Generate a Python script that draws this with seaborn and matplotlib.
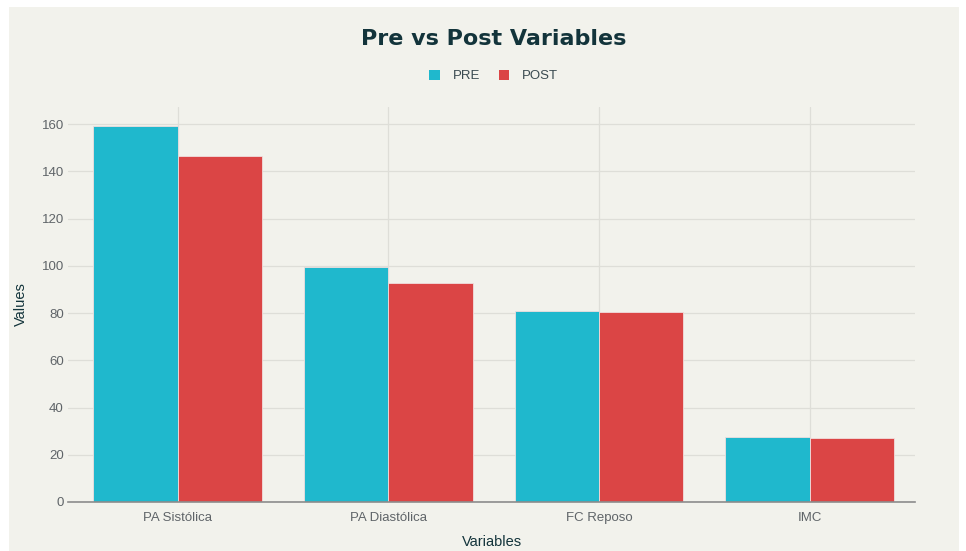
import numpy as np
import pandas as pd

import matplotlib
matplotlib.use("Agg")
import matplotlib.pyplot as plt
from matplotlib.patches import Rectangle
import seaborn as sns


# 데이터
variables = ["PA Sistólica", "PA Diastólica", "FC Reposo", "IMC"]
pre_values = [159.2, 99.6, 80.8, 27.5]
post_values = [146.5, 92.8, 80.5, 27.1]
series_names = ["PRE", "POST"]
y_ticks = [0, 20, 40, 60, 80, 100, 120, 140, 160]

# 색상
colors = ["#1FB8CD", "#DB4545"]
bg = "#F2F2EC"
dark = "#13343B"

df = pd.DataFrame({
    "Variables": variables * 2,
    "Values": pre_values + post_values,
    "Period": [series_names[0]] * len(variables) + [series_names[1]] * len(variables),
})

sns.set_theme(style="white")
plt.rcParams["font.family"] = ["Liberation Sans", "DejaVu Sans"]

fig = plt.figure(figsize=(9.66, 5.51), dpi=100, facecolor="white")
# 배경 영역 (가장자리 흰 테두리)
fig.patches.append(Rectangle((9 / 966, 0), 950 / 966, 1 - 7 / 551,
                             transform=fig.transFigure, facecolor=bg,
                             edgecolor="none", zorder=-10))

ax = fig.add_axes([68 / 966, 49 / 551, 847 / 966, 395 / 551])
ax.set_facecolor(bg)

sns.barplot(data=df, x="Variables", y="Values", hue="Period",
            palette=colors, saturation=1, width=0.8, ax=ax,
            edgecolor="#f0dede", linewidth=0.6, zorder=3, legend=False)

ax.set_xlim(-0.52, 3.5)
ax.set_ylim(0, 167.2)
ax.set_yticks(y_ticks)

# 그리드
ax.grid(True, axis="both", color="#DEDED8", linewidth=0.9, zorder=0)
ax.set_axisbelow(True)

for s in ["top", "right", "left"]:
    ax.spines[s].set_visible(False)
ax.spines["bottom"].set_color("#8C8C8C")
ax.spines["bottom"].set_linewidth(1.2)
ax.spines["bottom"].set_zorder(4)

ax.tick_params(axis="both", length=0, labelsize=9.5, labelcolor="#5F6468")
ax.tick_params(axis="y", pad=3)
ax.tick_params(axis="x", pad=7)

ax.set_xlabel("Variables", fontsize=10.5, color=dark, labelpad=8)
ax.set_ylabel("Values", fontsize=10.5, color=dark, labelpad=10)

fig.text(0.511, 0.93, "Pre vs Post Variables", ha="center", va="center",
         fontsize=16, fontweight="heavy", color=dark,
         family=["DejaVu Sans"])

# 범례
handles = [Rectangle((0, 0), 1, 1, facecolor=c, edgecolor="none") for c in colors]
fig.legend(handles, series_names, loc="center", bbox_to_anchor=(0.511, 0.862),
           ncol=2, frameon=False, fontsize=9.5, handlelength=0.8, handleheight=0.8,
           columnspacing=1.4, handletextpad=1.0, labelcolor="#3A4A50")

fig.savefig("out.png", dpi=100, facecolor="white")
